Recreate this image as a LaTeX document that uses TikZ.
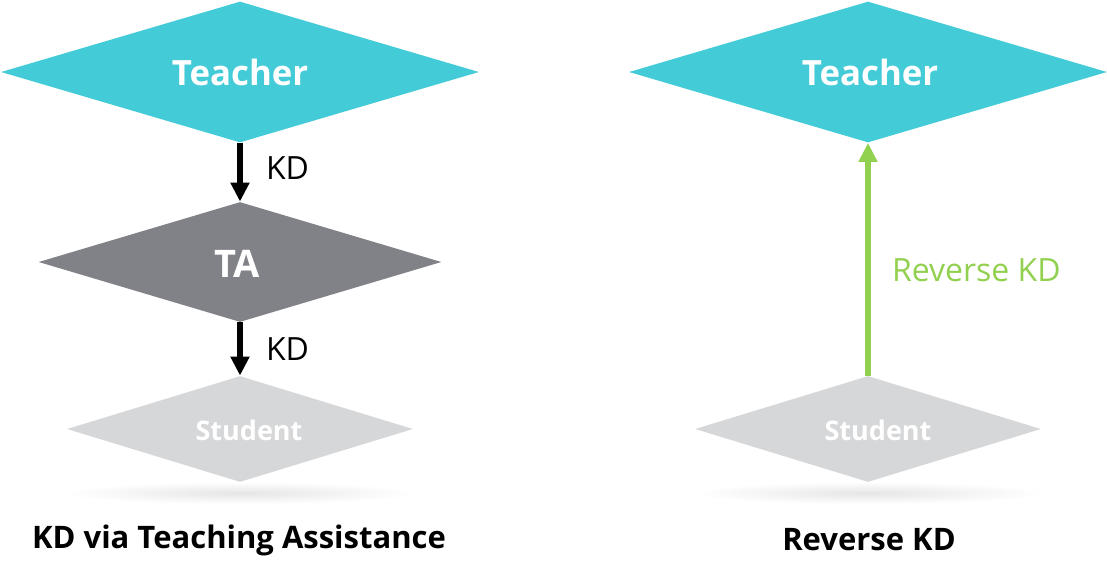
\documentclass[tikz,border=0pt]{standalone}
\usepackage{fontspec}
\setmainfont{Open Sans}
\usetikzlibrary{shapes.geometric, arrows.meta, positioning}

\definecolor{teachercol}{HTML}{43CBD7}
\definecolor{tacol}{HTML}{808288}
\definecolor{studentcol}{HTML}{D6D7D9}
\definecolor{revcol}{HTML}{92D050}

\begin{document}
\begin{tikzpicture}[
  x=0.5pt, y=-0.5pt,
  teacher/.style={diamond, aspect=3.4, fill=teachercol, inner sep=0pt, minimum width=239pt, minimum height=70.5pt},
  teachertext/.style={text=white, font=\fontsize{17.4}{20}\selectfont\bfseries},
  assistant/.style={diamond, aspect=3.4, fill=tacol, inner sep=0pt, minimum width=201.5pt, minimum height=60pt},
  tatext/.style={text=white, font=\fontsize{19}{22}\selectfont\bfseries},
  student/.style={diamond, aspect=3.4, fill=studentcol, inner sep=0pt, minimum width=173pt, minimum height=53pt},
  studenttext/.style={text=white, font=\fontsize{13.5}{16}\selectfont\bfseries},
  shadowblur/.style={ellipse, inner color=black!10, outer color=white, draw=none,
    minimum width=175pt, minimum height=11pt},
  kd/.style={-{Triangle[length=9.5pt, width=9pt]}, line width=3pt},
  lbl/.style={font=\fontsize{16}{19}\selectfont},
  caption/.style={font=\fontsize{15.5}{19}\selectfont\bfseries}
]
\useasboundingbox (0,0) rectangle (1107,585);

% shadows under the students
\node [shadowblur] (shL) at (240,493) {};
\node [shadowblur] (shR) at (868,493) {};

% left: KD via teaching assistance
\node [teacher] (teacherL) at (240,72) {};
\node [teachertext] (teacherLText) at (240,72) {Teacher};
\node [assistant] (ta) at (240,262) {};
\node [tatext] (taText) at (237,264) {TA};
\node [student] (studentL) at (240,429) {};
\node [studenttext] (studentLText) at (249,430) {Student};
\draw [kd] (teacherL.south) -- (ta.north);
\draw [kd] (ta.south) -- (studentL.north);
\node [lbl, anchor=west] (kd1) at (259,168) {KD};
\node [lbl, anchor=west] (kd2) at (259,349) {KD};
\node [caption] (capL) at (239,540) {KD via Teaching Assistance};

% right: reverse KD
\node [teacher] (teacherR) at (868,72) {};
\node [teachertext] (teacherRText) at (870,72) {Teacher};
\node [student] (studentR) at (868,429) {};
\node [studenttext] (studentRText) at (878,430) {Student};
\draw [kd, revcol] (studentR.north) -- (teacherR.south);
\node [lbl, text=revcol, anchor=west] (rkd) at (885,270) {Reverse KD};
\node [caption] (capR) at (869,540) {Reverse KD};
\end{tikzpicture}
\end{document}
